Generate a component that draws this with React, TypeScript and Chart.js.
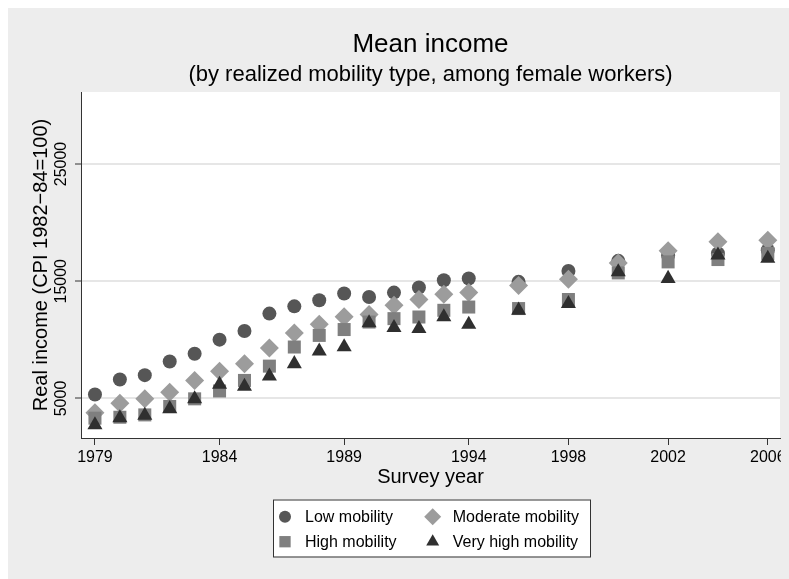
import React, { useEffect, useRef } from 'react';
import { Chart, registerables } from 'chart.js';

Chart.register(...registerables);

const years = [1979, 1980, 1981, 1982, 1983, 1984, 1985, 1986, 1987, 1988, 1989, 1990, 1991, 1992, 1993, 1994, 1996, 1998, 2000, 2002, 2004, 2006];
const lowMobility = [5340, 6620, 6990, 8160, 8820, 10020, 10760, 12240, 12860, 13380, 13950, 13660, 14030, 14460, 15090, 15230, 14950, 15880, 16740, 17200, 17370, 17650];
const moderateMobility = [3780, 4600, 4970, 5540, 6540, 7330, 7960, 9300, 10580, 11340, 11970, 12170, 12950, 13440, 13890, 14030, 14630, 15170, 16560, 17590, 18360, 18500];
const highMobility = [3320, 3400, 3600, 4320, 4970, 5640, 6540, 7760, 9390, 10380, 10880, 11520, 11810, 11950, 12520, 12800, 12670, 13440, 15710, 16650, 16850, 17370];
const veryHighMobility = [2750, 3350, 3550, 4120, 4970, 6200, 6030, 6900, 7960, 9040, 9390, 11440, 11040, 10950, 11950, 11320, 12520, 13090, 15800, 15230, 17220, 16940];

const seriesLabels = ['Low mobility', 'Moderate mobility', 'High mobility', 'Very high mobility'];
const xTicks = [1979, 1984, 1989, 1994, 1998, 2002, 2006];
const yTicks = [5000, 15000, 25000];
const titleText = 'Mean income';
const subtitleText = '(by realized mobility type, among female workers)';
const xTitleText = 'Survey year';
const yTitleText = 'Real income (CPI 1982\u221284=100)';

const FONT = '"Liberation Sans", Arial, Helvetica, sans-serif';
const W = 773;
const H = 563;
const BG = '#ededed';

type Style = { pointStyle: string; color: string; radius: number };
const styles: Style[] = [
  { pointStyle: 'circle', color: '#565656', radius: 7 },
  { pointStyle: 'rectRot', color: '#9c9c9c', radius: 9.5 },
  { pointStyle: 'rect', color: '#7f7f7f', radius: 9.2 },
  { pointStyle: 'triangle', color: '#2f2f2f', radius: 8.7 },
];

function drawMarker(ctx: CanvasRenderingContext2D, style: string, x: number, y: number, r: number, color: string) {
  ctx.save();
  ctx.fillStyle = color;
  ctx.beginPath();
  if (style === 'circle') {
    ctx.arc(x, y, r, 0, Math.PI * 2);
  } else if (style === 'rect') {
    const s = r * Math.SQRT1_2;
    ctx.rect(x - s, y - s, 2 * s, 2 * s);
  } else if (style === 'rectRot') {
    ctx.moveTo(x - r, y);
    ctx.lineTo(x, y - r);
    ctx.lineTo(x + r, y);
    ctx.lineTo(x, y + r);
    ctx.closePath();
  } else {
    ctx.moveTo(x, y - r);
    ctx.lineTo(x + 0.866 * r, y + 0.5 * r);
    ctx.lineTo(x - 0.866 * r, y + 0.5 * r);
    ctx.closePath();
  }
  ctx.fill();
  ctx.restore();
}

const decorPlugin = {
  id: 'decor',
  beforeDraw(chart: any) {
    const { ctx, chartArea: a } = chart;
    ctx.save();
    ctx.fillStyle = BG;
    ctx.fillRect(0, 0, chart.width, chart.height);
    ctx.fillStyle = '#ffffff';
    ctx.fillRect(a.left, a.top, a.right - a.left, a.bottom - a.top);
    ctx.restore();
  },
  afterDraw(chart: any) {
    const { ctx, chartArea: a } = chart;
    const cx = (a.left + a.right) / 2;
    ctx.save();
    ctx.fillStyle = '#000';
    ctx.textAlign = 'center';
    ctx.textBaseline = 'alphabetic';
    ctx.font = `26px ${FONT}`;
    ctx.fillText(titleText, cx, 43.5);
    ctx.font = `22px ${FONT}`;
    ctx.fillText(subtitleText, cx, 72.5);

    // x tick labels
    const xs = chart.scales.x;
    ctx.font = `16px ${FONT}`;
    ctx.textBaseline = 'middle';
    xTicks.forEach((v) => {
      ctx.fillText(String(v), xs.getPixelForValue(v), a.bottom + 19.6);
    });

    // rotated y tick labels
    const ys = chart.scales.y;
    ctx.textBaseline = 'alphabetic';
    yTicks.forEach((v) => {
      const py = ys.getPixelForValue(v);
      ctx.save();
      ctx.translate(58, py);
      ctx.rotate(-Math.PI / 2);
      ctx.fillText(String(v), 0, 0);
      ctx.restore();
    });

    // legend
    const bx = 265, by = 491.5, bw = 317, bh = 57;
    ctx.fillStyle = '#ffffff';
    ctx.fillRect(bx, by, bw, bh);
    ctx.strokeStyle = '#333';
    ctx.lineWidth = 1;
    ctx.strokeRect(bx + 0.5, by + 0.5, bw, bh);
    const cols = [277, 424.7];
    const rows = [508.7, 533.7];
    const legendR = [6, 8.5, 8, 7.5];
    chart.data.datasets.forEach((ds: any, i: number) => {
      const col = i % 2;
      const row = Math.floor(i / 2);
      const st = styles[i];
      drawMarker(ctx, st.pointStyle, cols[col], rows[row], legendR[i], st.color);
      ctx.fillStyle = '#000';
      ctx.font = `16px ${FONT}`;
      ctx.textAlign = 'left';
      ctx.textBaseline = 'middle';
      ctx.fillText(ds.label, cols[col] + 20, rows[row] + 1);
    });
    ctx.restore();
  },
};

const pageCss =
  'html{overflow:hidden;min-height:100%;background-color:' + BG +
  ';background-image:linear-gradient(to right,#fff 8px,transparent 8px),linear-gradient(to bottom,#fff 8px,transparent 8px);' +
  'background-repeat:no-repeat;background-size:100% 100%;}';

export default function App() {
  const ref = useRef<HTMLCanvasElement | null>(null);
  useEffect(() => {
    if (!ref.current) return;
    const seriesValues = [lowMobility, moderateMobility, highMobility, veryHighMobility];
    const chart = new Chart(ref.current, {
      type: 'scatter',
      data: {
        datasets: seriesValues.map((vals, i) => ({
          label: seriesLabels[i],
          data: years.map((yr, j) => ({ x: yr, y: vals[j] })),
          pointStyle: styles[i].pointStyle as any,
          pointRadius: styles[i].radius,
          pointHoverRadius: styles[i].radius,
          backgroundColor: styles[i].color,
          borderColor: styles[i].color,
          borderWidth: 0,
          order: 3 - i,
        })),
      },
      options: {
        responsive: false,
        animation: false,
        devicePixelRatio: 1,
        layout: { autoPadding: false, padding: { top: 84, right: 1, bottom: 0, left: 0 } },
        plugins: {
          legend: { display: false },
          title: { display: false },
          tooltip: { enabled: false },
        },
        scales: {
          x: {
            type: 'linear',
            min: 1978.44,
            max: 2006.49,
            afterBuildTicks: (s: any) => {
              s.ticks = xTicks.map((v) => ({ value: v }));
            },
            afterFit: (s: any) => {
              s.height = 133;
            },
            ticks: { display: false },
            grid: {
              drawOnChartArea: false,
              drawTicks: true,
              tickLength: 7,
              tickColor: '#333',
              tickWidth: 1,
            },
            border: { display: true, color: '#333', width: 1 },
            title: {
              display: true,
              text: xTitleText,
              color: '#000',
              font: { family: FONT, size: 20 },
              padding: { top: 0, bottom: 82 },
            },
          },
          y: {
            type: 'linear',
            min: 1630,
            max: 31140,
            afterBuildTicks: (s: any) => {
              s.ticks = yTicks.map((v) => ({ value: v }));
            },
            afterFit: (s: any) => {
              s.width = 73;
            },
            ticks: { display: false },
            grid: {
              color: '#e6e6e6',
              lineWidth: 2,
              drawTicks: true,
              tickLength: 6,
              tickColor: '#333',
              tickWidth: 1,
            },
            border: { display: true, color: '#333', width: 1 },
            title: {
              display: true,
              text: yTitleText,
              color: '#000',
              font: { family: FONT, size: 20 },
              padding: { top: 21, bottom: 0 },
            },
          },
        },
      },
      plugins: [decorPlugin],
    });
    return () => chart.destroy();
  }, []);

  return (
    <div style={{ width: W, height: H }}>
      <style>{pageCss}</style>
      <canvas ref={ref} width={W} height={H} style={{ display: 'block' }} />
    </div>
  );
}
